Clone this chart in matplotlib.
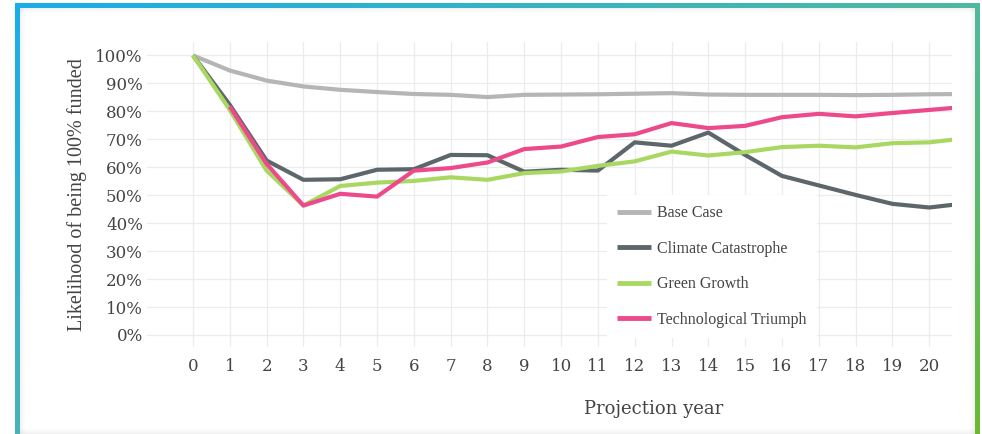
import numpy as np
import matplotlib
matplotlib.use("Agg")
import matplotlib.pyplot as plt
from matplotlib.patches import Rectangle

# ---------------- data ----------------
years = list(range(0, 22))
tick_years = list(range(0, 21))
base_case = [100, 94.6, 91.0, 88.9, 87.7, 86.9, 86.2, 85.9, 85.1, 85.9, 86.0,
             86.1, 86.3, 86.5, 86.0, 85.9, 85.9, 85.9, 85.8, 85.9, 86.1, 86.2]
climate_catastrophe = [100, 82.3, 62.4, 55.5, 55.7, 59.1, 59.3, 64.4, 64.3, 58.4, 59.1,
                       58.8, 68.9, 67.7, 72.4, 64.4, 56.9, 53.5, 50.1, 46.9, 45.6, 47.1]
green_growth = [100, 80.5, 58.8, 46.3, 53.3, 54.5, 55.1, 56.4, 55.5, 57.9, 58.5,
                60.5, 62.1, 65.6, 64.2, 65.4, 67.2, 67.7, 67.1, 68.6, 68.9, 70.4]
tech_years = list(range(1, 22))
technological_triumph = [81.7, 61.2, 46.3, 50.5, 49.5, 58.8, 59.7, 61.7, 66.5, 67.4,
                         70.8, 71.8, 75.8, 74.0, 74.8, 77.9, 79.1, 78.2, 79.4, 80.5, 81.6]
y_ticks = [0, 10, 20, 30, 40, 50, 60, 70, 80, 90, 100]
y_tick_labels = [f"{v}%" for v in y_ticks]
series_names = ["Base Case", "Climate Catastrophe", "Green Growth", "Technological Triumph"]
series_colors = ["#b5b5b5", "#5d676b", "#a9d862", "#ec4a8b"]

W, H = 982, 434
fig = plt.figure(figsize=(W / 100, H / 100), dpi=100)

# ---------------- frame with gradient border ----------------
bg = fig.add_axes([0, 0, 1, 1])
bg.set_xlim(0, W)
bg.set_ylim(H, 0)
bg.axis("off")
c_tl = np.array([0x19, 0xae, 0xe8]) / 255
c_tr = np.array([0x4f, 0xb9, 0xa0]) / 255
c_bl = np.array([0x48, 0xb4, 0xb8]) / 255
c_br = np.array([0x6a, 0xba, 0x30]) / 255
gx = np.linspace(0, 1, 200)[None, :, None]
gy = np.linspace(0, 1, 100)[:, None, None]
grad = ((1 - gx) * (1 - gy) * c_tl + gx * (1 - gy) * c_tr
        + (1 - gx) * gy * c_bl + gx * gy * c_br)
bg.imshow(grad, extent=(15, 980, H, 3), aspect="auto", interpolation="bilinear", zorder=0)
bg.add_patch(Rectangle((20, 8), 955, H, facecolor="white", edgecolor="none", zorder=1))
# soft inner shadow
for i, a in enumerate([0.10, 0.07, 0.05, 0.03, 0.015]):
    bg.add_patch(Rectangle((20 + i, 8), 1, H, facecolor="#777777", alpha=a, edgecolor="none", zorder=2))
    bg.add_patch(Rectangle((20, 8 + i), 955, 1, facecolor="#777777", alpha=a, edgecolor="none", zorder=2))
    bg.add_patch(Rectangle((974 - i, 8), 1, H, facecolor="#777777", alpha=a, edgecolor="none", zorder=2))
    bg.add_patch(Rectangle((20, H - 1 - i), 955, 1, facecolor="#777777", alpha=a, edgecolor="none", zorder=2))

# ---------------- main axes ----------------
left, right, top, bottom = 147, 952, 42, 347
ax = fig.add_axes([left / W, 1 - bottom / H, (right - left) / W, (bottom - top) / H])
ax.set_facecolor("none")
ax.set_xlim(-1.25, 20.62)
ax.set_ylim(-4.3, 104.8)

for s in ax.spines.values():
    s.set_visible(False)

ax.set_xticks(tick_years)
ax.set_xticklabels([str(t) for t in tick_years], fontfamily="DejaVu Serif", fontsize=12, color="#444444")
ax.set_yticks(y_ticks)
ax.set_yticklabels(y_tick_labels, fontfamily="DejaVu Serif", fontsize=12, color="#444444")
ax.tick_params(axis="both", length=0)
ax.tick_params(axis="y", pad=3)
ax.tick_params(axis="x", pad=8)
ax.grid(True, color="#ececec", linewidth=0.9)
ax.set_axisbelow(True)

ax.plot(years, base_case, color=series_colors[0], lw=3.0, label=series_names[0], solid_capstyle="butt")
ax.plot(years, climate_catastrophe, color=series_colors[1], lw=3.0, label=series_names[1], solid_capstyle="butt")
ax.plot(years, green_growth, color=series_colors[2], lw=3.0, label=series_names[2], solid_capstyle="butt")
ax.plot(tech_years, technological_triumph, color=series_colors[3], lw=3.0, label=series_names[3], solid_capstyle="butt")

ax.set_ylabel("Likelihood of being 100% funded", fontfamily="Liberation Serif", fontsize=14.5, color="#444444")
ax.yaxis.label.set_va("center")
ax.yaxis.set_label_coords((77 - left) / (right - left), (bottom - 195) / (bottom - top))
ax.set_xlabel("Projection year", fontfamily="DejaVu Serif", fontsize=13, color="#444444")
ax.xaxis.label.set_va("center")
ax.xaxis.set_label_coords((654 - left) / (right - left), (bottom - 409) / (bottom - top))

leg = ax.legend(loc="upper left", bbox_to_anchor=(607 / W, 1 - 195 / H), bbox_transform=fig.transFigure,
                prop={"family": "Liberation Serif", "size": 11.5}, frameon=True, fancybox=False,
                handlelength=2.1, handletextpad=0.4, labelspacing=1.22, borderpad=0.65,
                borderaxespad=0)
leg.get_frame().set_facecolor("white")
leg.get_frame().set_edgecolor("none")
leg.get_frame().set_alpha(1)
for t in leg.get_texts():
    t.set_color("#444444")
for l in leg.get_lines():
    l.set_linewidth(3.5)

fig.savefig("out.png", dpi=100)
